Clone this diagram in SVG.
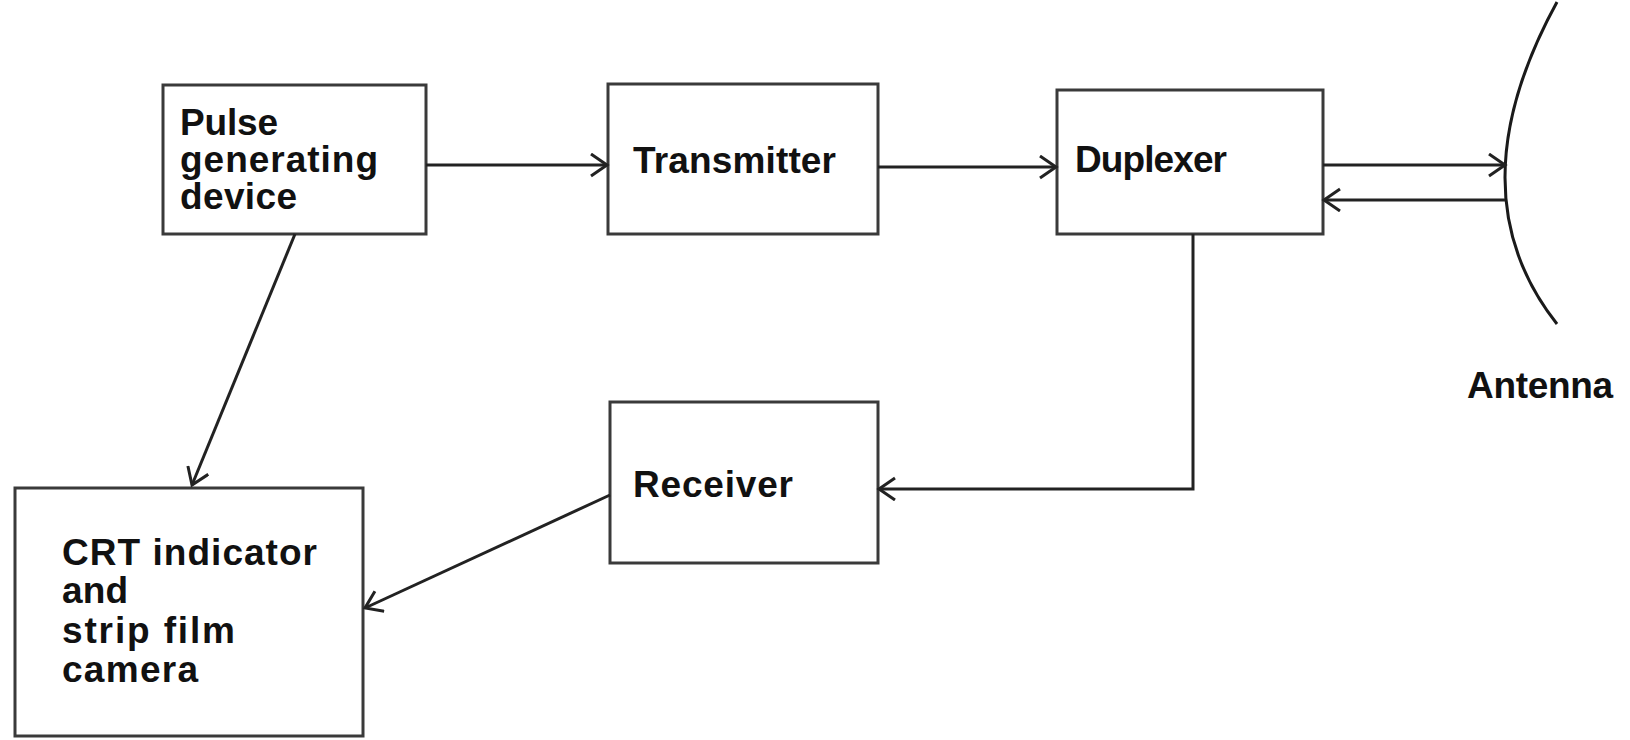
<svg xmlns="http://www.w3.org/2000/svg" width="1630" height="740" viewBox="0 0 1630 740">
  <style>
    .box { fill: #ffffff; stroke: #3a3a3a; stroke-width: 3; }
    .lbl { font-family: "Liberation Sans", Arial, sans-serif; font-size: 37px; font-weight: bold; fill: #111111; }
    .wire { fill: none; stroke: #222222; stroke-width: 3; }
    .dish { fill: none; stroke: #1a1a1a; stroke-width: 3; }
  </style>
  <defs>
    <marker id="arrow" markerUnits="userSpaceOnUse" markerWidth="24" markerHeight="28" refX="17" refY="12" orient="auto">
      <path d="M1,1 L17,12 L1,23" fill="none" stroke="#222222" stroke-width="3"/>
    </marker>
  </defs>
  <rect width="1630" height="740" fill="#ffffff"/>

  <g id="pulse-generator">
    <rect class="box" x="163" y="85" width="263" height="149"/>
    <text class="lbl" x="180" y="135" textLength="98">Pulse</text>
    <text class="lbl" x="180" y="172" textLength="198">generating</text>
    <text class="lbl" x="180" y="209" textLength="117">device</text>
  </g>

  <g id="transmitter">
    <rect class="box" x="608" y="84" width="270" height="150"/>
    <text class="lbl" x="633" y="173" textLength="203">Transmitter</text>
  </g>

  <g id="duplexer">
    <rect class="box" x="1057" y="90" width="266" height="144"/>
    <text class="lbl" x="1075" y="172" textLength="152">Duplexer</text>
  </g>

  <g id="antenna">
    <path class="dish" d="M1557,2 Q1453,192 1557,324"/>
    <text class="lbl" x="1467" y="398" textLength="146">Antenna</text>
  </g>

  <g id="receiver">
    <rect class="box" x="610" y="402" width="268" height="161"/>
    <text class="lbl" x="633" y="497" textLength="160">Receiver</text>
  </g>

  <g id="crt-indicator">
    <rect class="box" x="15" y="488" width="348" height="248"/>
    <text class="lbl" x="62" y="565" textLength="255">CRT indicator</text>
    <text class="lbl" x="62" y="603" textLength="66">and</text>
    <text class="lbl" x="62" y="643" textLength="173">strip film</text>
    <text class="lbl" x="62" y="682" textLength="136">camera</text>
  </g>

  <g id="connectors">
    <path class="wire" d="M426,165 L607,165" marker-end="url(#arrow)"/>
    <path class="wire" d="M878,167 L1056,167" marker-end="url(#arrow)"/>
    <path class="wire" d="M1323,165 L1505,165" marker-end="url(#arrow)"/>
    <path class="wire" d="M1505,200 L1324,200" marker-end="url(#arrow)"/>
    <path class="wire" d="M1193,234 L1193,489 L879,489" marker-end="url(#arrow)"/>
    <path class="wire" d="M610,495 L365,608" marker-end="url(#arrow)"/>
    <path class="wire" d="M295,234 L192,485" marker-end="url(#arrow)"/>
  </g>
</svg>
